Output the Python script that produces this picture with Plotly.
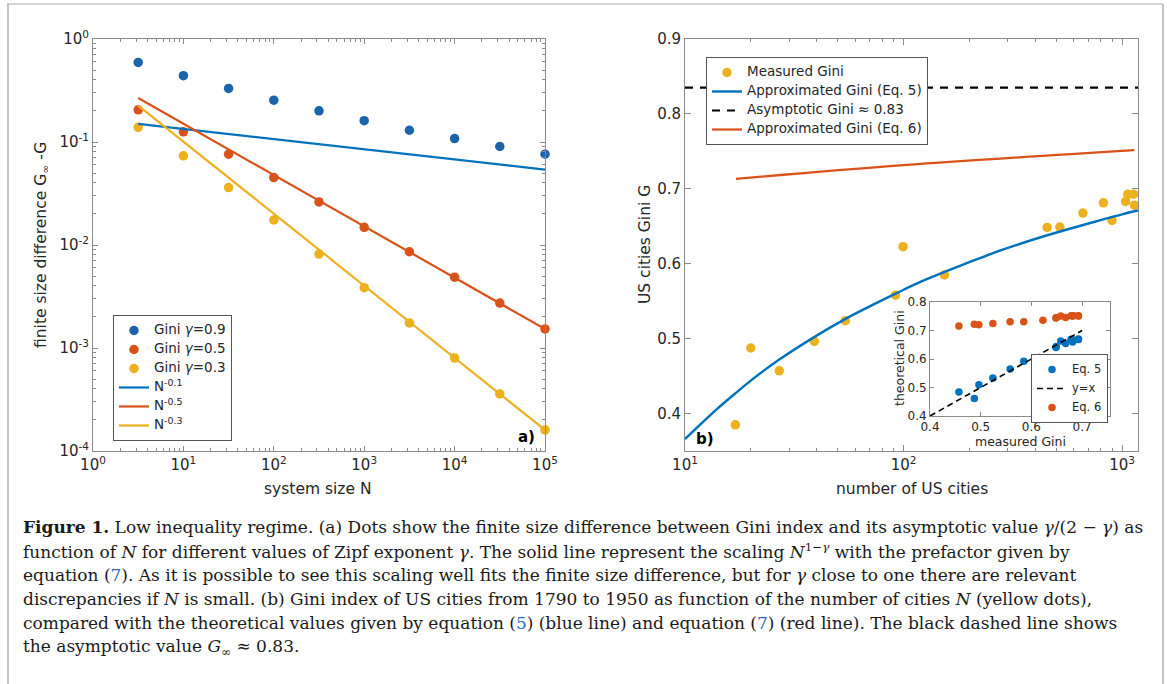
import plotly.graph_objects as go

# ---------------- data ----------------
# panel a
sys_N = [3.162, 10, 31.62, 100, 316.2, 1000, 3162, 10000, 31623, 100000]
gini_g09 = [0.593, 0.440, 0.331, 0.255, 0.201, 0.161, 0.130, 0.108, 0.0904, 0.0762]
gini_g05 = [0.2055, 0.1256, 0.0762, 0.0452, 0.0262, 0.01485, 0.0086, 0.00487, 0.00273, 0.00153]
gini_g03 = [0.139, 0.0734, 0.0361, 0.0175, 0.00817, 0.00385, 0.00175, 0.000798, 0.000358, 0.00016]
fit_N = [3.162, 100000]
fit_01 = [0.150, 0.054]
fit_05 = [0.267, 0.00153]
fit_03 = [0.226, 0.00016]

# panel b
city_N = [17.0, 20.0, 27.0, 39.1, 54.1, 91.9, 99.5, 154, 454, 519, 662, 822, 900, 1038, 1062, 1130, 1140]
city_G = [0.385, 0.4875, 0.457, 0.4964, 0.524, 0.558, 0.6227, 0.585, 0.6484, 0.6489, 0.6676,
          0.6813, 0.6578, 0.6831, 0.6927, 0.6929, 0.6782]
eq5_N = [10, 12, 14, 17, 20, 27, 39, 54, 70, 92, 120, 154, 200, 280, 400, 550, 750, 1000, 1183]
eq5_G = [0.366, 0.388, 0.406, 0.427, 0.444, 0.472, 0.502, 0.526, 0.543, 0.560, 0.576, 0.589,
         0.602, 0.618, 0.633, 0.645, 0.656, 0.666, 0.671]
eq6_N = [17.1, 100, 1137]
eq6_G = [0.7133, 0.7316, 0.7516]
asym_N = [10, 1183]
asym_G = [0.835, 0.835]

# inset (theoretical vs measured, for cities 2..17)
inset_meas = city_G[1:]
inset_eq5 = [0.461, 0.484, 0.510, 0.533, 0.565, 0.570, 0.592, 0.640, 0.644, 0.654, 0.660,
             0.663, 0.667, 0.668, 0.670, 0.669]
inset_eq6 = [0.722, 0.716, 0.720, 0.725, 0.731, 0.736, 0.731, 0.744, 0.745, 0.746, 0.751,
             0.751, 0.752, 0.752, 0.751, 0.752]
yx_line = [0.4, 0.7]

a_ticks = [1, 10, 100, 1000, 10000, 100000]
a_ticktext = ["10<sup>0</sup>", "10<sup>1</sup>", "10<sup>2</sup>", "10<sup>3</sup>", "10<sup>4</sup>", "10<sup>5</sup>"]
a_yticks = [1e-4, 1e-3, 1e-2, 1e-1, 1]
a_yticktext = ["10<sup>-4</sup>", "10<sup>-3</sup>", "10<sup>-2</sup>", "10<sup>-1</sup>", "10<sup>0</sup>"]
b_ticks = [10, 100, 1000]
b_ticktext = ["10<sup>1</sup>", "10<sup>2</sup>", "10<sup>3</sup>"]

# minor tick positions (2..9 within each decade)
minor_ax = [m * 10 ** k for k in range(0, 5) for m in range(2, 10)]
minor_ay = [m * 10.0 ** k for k in range(-4, 0) for m in range(2, 10)]
minor_bx = [m * 10 ** k for k in range(1, 3) for m in range(2, 10)]

BLUE = "#0072BD"
BLUE_D = "#1b63aa"
RED = "#D95319"
YEL = "#EDB120"
W, H = 1167, 684
FONT = "DejaVu Sans"
TXT = "#262626"
AX = "#8a8a8a"


def px(x):
    return x / W


def py(y):
    return 1 - y / H


def lg(text, size):
    return "<span style='font-size:%spx'>%s</span>" % (size, text)


fig = go.Figure()

# ---- panel a ----
fig.add_trace(go.Scatter(x=sys_N, y=gini_g09, mode="markers", name=lg("Gini <i>γ</i>=0.9", 13.5),
                         cliponaxis=False, marker=dict(color=BLUE_D, size=9.5),
                         xaxis="x", yaxis="y", legend="legend"))
fig.add_trace(go.Scatter(x=sys_N, y=gini_g05, mode="markers", name=lg("Gini <i>γ</i>=0.5", 13.5),
                         cliponaxis=False, marker=dict(color=RED, size=9.5),
                         xaxis="x", yaxis="y", legend="legend"))
fig.add_trace(go.Scatter(x=sys_N, y=gini_g03, mode="markers", name=lg("Gini <i>γ</i>=0.3", 13.5),
                         cliponaxis=False, marker=dict(color=YEL, size=9.5),
                         xaxis="x", yaxis="y", legend="legend"))
fig.add_trace(go.Scatter(x=fit_N, y=fit_01, mode="lines", name=lg("N<sup>-0.1</sup>", 13.5),
                         line=dict(color=BLUE, width=2.2), xaxis="x", yaxis="y", legend="legend"))
fig.add_trace(go.Scatter(x=fit_N, y=fit_05, mode="lines", name=lg("N<sup>-0.5</sup>", 13.5),
                         line=dict(color=RED, width=2.2), xaxis="x", yaxis="y", legend="legend"))
fig.add_trace(go.Scatter(x=fit_N, y=fit_03, mode="lines", name=lg("N<sup>-0.3</sup>", 13.5),
                         line=dict(color=YEL, width=2.2), xaxis="x", yaxis="y", legend="legend"))

# ---- panel b ----
fig.add_trace(go.Scatter(x=city_N, y=city_G, mode="markers", name=lg("Measured Gini", 13.5),
                         cliponaxis=False, marker=dict(color=YEL, size=9.5),
                         xaxis="x2", yaxis="y2", legend="legend2"))
fig.add_trace(go.Scatter(x=eq5_N, y=eq5_G, mode="lines", name=lg("Approximated Gini (Eq. 5)", 13.5),
                         line=dict(color=BLUE, width=2.4, shape="spline", smoothing=1.0),
                         xaxis="x2", yaxis="y2", legend="legend2"))
fig.add_trace(go.Scatter(x=asym_N, y=asym_G, mode="lines", name=lg("Asymptotic Gini ≈ 0.83", 13.5),
                         line=dict(color="black", width=2.2, dash="8px,7px"), xaxis="x2", yaxis="y2",
                         legend="legend2"))
fig.add_trace(go.Scatter(x=eq6_N, y=eq6_G, mode="lines", name=lg("Approximated Gini (Eq. 6)", 13.5),
                         line=dict(color=RED, width=2.2, shape="spline"), xaxis="x2", yaxis="y2",
                         legend="legend2"))

# ---- inset ----
fig.add_trace(go.Scatter(x=inset_meas, y=inset_eq5, mode="markers", name=lg("Eq. 5", 11.5),
                         marker=dict(color=BLUE, size=7.5), xaxis="x3", yaxis="y3", legend="legend3"))
fig.add_trace(go.Scatter(x=yx_line, y=yx_line, mode="lines", name=lg("y=x", 11.5),
                         line=dict(color="black", width=1.6, dash="6px,4px"), xaxis="x3", yaxis="y3",
                         legend="legend3"))
fig.add_trace(go.Scatter(x=inset_meas, y=inset_eq6, mode="markers", name=lg("Eq. 6", 11.5),
                         marker=dict(color=RED, size=7.5), xaxis="x3", yaxis="y3", legend="legend3"))

tickfont = dict(family=FONT, size=15, color=TXT)
common = dict(showline=True, linecolor=AX, linewidth=1, mirror="allticks", ticks="inside",
              tickcolor=AX, showgrid=False, zeroline=False, tickfont=tickfont, automargin=False)
small_font = dict(family=FONT, size=12, color=TXT)
leg_common = dict(xanchor="left", yanchor="top", bgcolor="white", bordercolor="#555", borderwidth=1,
                  font=dict(family=FONT, size=10, color=TXT), tracegroupgap=0, itemwidth=30)

fig.update_layout(
    template="none",
    width=W, height=H, autosize=False,
    margin=dict(l=0, r=0, t=0, b=0, pad=0, autoexpand=False),
    paper_bgcolor="white", plot_bgcolor="white",
    font=dict(family=FONT, color=TXT),
    xaxis=dict(type="log", domain=[px(93), px(545)], range=[0, 5], anchor="y",
               tickmode="array", tickvals=a_ticks, ticktext=a_ticktext, ticklen=5,
               minor=dict(tickmode="array", tickvals=minor_ax, ticks="inside", ticklen=3,
                          tickcolor=AX, showgrid=False), **common),
    yaxis=dict(type="log", domain=[py(451), py(39)], range=[-4, 0], anchor="x",
               tickmode="array", tickvals=a_yticks, ticktext=a_yticktext, ticklen=5,
               minor=dict(tickmode="array", tickvals=minor_ay, ticks="inside", ticklen=3,
                          tickcolor=AX, showgrid=False), **common),
    xaxis2=dict(type="log", domain=[px(685), px(1138)], range=[1, 3.073], anchor="y2",
                tickmode="array", tickvals=b_ticks, ticktext=b_ticktext, ticklen=6,
                minor=dict(tickmode="array", tickvals=minor_bx, ticks="inside", ticklen=3,
                           tickcolor=AX, showgrid=False), **common),
    yaxis2=dict(domain=[py(451), py(39)], range=[0.35, 0.9], anchor="x2",
                tickmode="array", tickvals=[0.4, 0.5, 0.6, 0.7, 0.8, 0.9],
                ticktext=["0.4", "0.5", "0.6", "0.7", "0.8", "0.9"], ticklen=6, **common),
    xaxis3=dict(domain=[px(930), px(1110)], range=[0.4, 0.755], anchor="y3",
                tickmode="array", tickvals=[0.4, 0.5, 0.6, 0.7], ticktext=["0.4", "0.5", "0.6", "0.7"],
                ticklen=4, **{**common, "tickfont": small_font}),
    yaxis3=dict(domain=[py(416), py(302)], range=[0.4, 0.8], anchor="x3",
                tickmode="array", tickvals=[0.4, 0.5, 0.6, 0.7, 0.8],
                ticktext=["0.4", "0.5", "0.6", "0.7", "0.8"],
                ticklen=4, **{**common, "tickfont": small_font}),
    legend=dict(x=px(113), y=py(315), **leg_common),
    legend2=dict(x=px(706), y=py(57), **leg_common),
    legend3=dict(x=px(1108), y=py(354), **{**leg_common, "xanchor": "right"}),
    showlegend=True,
)

ann = []
# axis titles
ann.append(dict(x=px(318), y=py(489), text="system size N",
                font=dict(family=FONT, size=15.5, color=TXT)))
ann.append(dict(x=px(42), y=py(245), text="finite size difference G<sub>∞</sub> -G", textangle=-90,
                font=dict(family=FONT, size=15.5, color=TXT)))
ann.append(dict(x=px(912), y=py(489), text="number of US cities",
                font=dict(family=FONT, size=15.5, color=TXT)))
ann.append(dict(x=px(645), y=py(245), text="US cities Gini G", textangle=-90,
                font=dict(family=FONT, size=15.5, color=TXT)))
ann.append(dict(x=px(1020), y=py(441), text="measured Gini",
                font=dict(family=FONT, size=12.5, color=TXT)))
ann.append(dict(x=px(899), y=py(358), text="theoretical Gini", textangle=-90,
                font=dict(family=FONT, size=12.5, color=TXT)))
ann.append(dict(x=px(526), y=py(437), text="<b>a)</b>",
                font=dict(family=FONT, size=15, color="black")))
ann.append(dict(x=px(705), y=py(439), text="<b>b)</b>",
                font=dict(family=FONT, size=15, color="black")))
for a in ann:
    a.update(xanchor="center", yanchor="middle")

LINK = "<span style='color:#2b6cb8'>{}</span>"
caption = [
    "<b>Figure 1.</b> Low inequality regime. (a) Dots show the finite size difference between Gini index and its asymptotic value <i>γ</i>/(2 − <i>γ</i>) as",
    "function of <i>N</i> for different values of Zipf exponent <i>γ</i>. The solid line represent the scaling <i>N</i><sup>1−<i>γ</i></sup> with the prefactor given by",
    "equation (" + LINK.format("7") + "). As it is possible to see this scaling well fits the finite size difference, but for <i>γ</i> close to one there are relevant",
    "discrepancies if <i>N</i> is small. (b) Gini index of US cities from 1790 to 1950 as function of the number of cities <i>N</i> (yellow dots),",
    "compared with the theoretical values given by equation (" + LINK.format("5") + ") (blue line) and equation (" + LINK.format("7") + ") (red line). The black dashed line shows",
    "the asymptotic value <i>G</i><sub>∞</sub> ≈ 0.83.",
]
for i, line in enumerate(caption):
    ann.append(dict(x=px(21), y=py(527 + 24 * i), xanchor="left", yanchor="middle", text=line,
                    font=dict(family="DejaVu Serif", size=17, color="#1a1a1a")))

for a in ann:
    a.update(xref="paper", yref="paper", showarrow=False)
fig.update_layout(annotations=ann)

# figure frame
fig.update_layout(shapes=[
    dict(type="line", xref="paper", yref="paper", x0=px(8), x1=px(8), y0=0, y1=py(4),
         line=dict(color="#c4c4c4", width=2)),
    dict(type="line", xref="paper", yref="paper", x0=px(7), x1=px(1163), y0=py(4), y1=py(4),
         line=dict(color="#a8a8a8", width=1)),
    dict(type="line", xref="paper", yref="paper", x0=px(1163), x1=px(1163), y0=0, y1=py(4),
         line=dict(color="#c4c4c4", width=2)),
])

fig.write_html("out.html", config={"displayModeBar": False},
               post_script="document.body.style.margin='0px';")
